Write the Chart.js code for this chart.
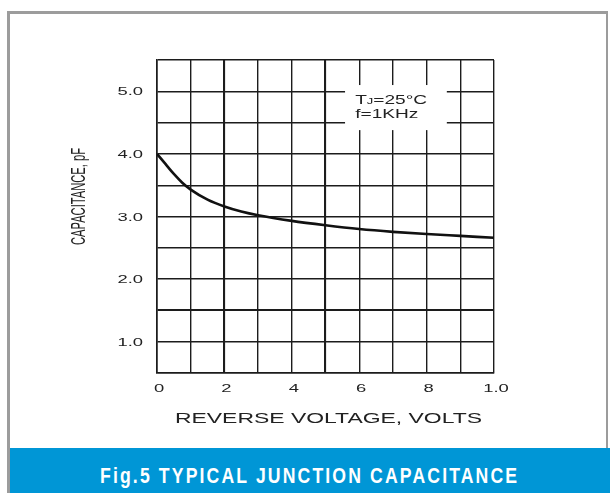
<!DOCTYPE html>
<html>
<head>
<meta charset="utf-8">
<script src="https://cdn.jsdelivr.net/npm/chart.js@4.4.1/dist/chart.umd.min.js"></script>
<style>
  html, body { margin: 0; padding: 0; background: #fff; }
  #page { position: relative; width: 610px; height: 493px; overflow: hidden; }
  #frame { position: absolute; left: 7px; top: 11px; right: 2px; bottom: 0; border: solid #9c9c9c; border-width: 3px 2px 0 3px; }
  #band { position: absolute; left: 10px; right: 0; top: 448px; bottom: 0; background: #0096d6; color: #fff;
          text-align: center; line-height: 59px; white-space: nowrap; }
  #band span { display: inline-block; font: bold 21.5px "Liberation Sans", Arial, sans-serif; letter-spacing: 2.6px;
               transform: scaleX(0.82); transform-origin: center; }
  canvas { position: absolute; left: 0; top: 0; }
</style>
</head>
<body>
<div id="page">
  <div id="frame"></div>
  <div id="band"><span>Fig.5 TYPICAL JUNCTION CAPACITANCE</span></div>
  <canvas id="chart" width="610" height="448"></canvas>
</div>
<script>
// values
const voltage = [0, 0.25, 0.5, 0.75, 1, 1.5, 2, 2.5, 3, 4, 5, 6, 7, 8, 9, 10];
const capacitance = [4.0, 3.84, 3.68, 3.54, 3.43, 3.27, 3.16, 3.08, 3.02, 2.93, 2.86, 2.80, 2.755, 2.72, 2.69, 2.66];

// tick labels, one per grid step (x: 0..10, y: 0.5..5.5)
const xTickLabels = ['0', '', '2', '', '4', '', '6', '', '8', '', '1.0'];
const yTickLabels = ['', '1.0', '', '2.0', '', '3.0', '', '4.0', '', '5.0', ''];

const heavyX = [2, 5];
const heavyY = [1.5];
const ink = '#1c1c1c';
const sans = '"Liberation Sans", Arial, sans-serif';

// the scanned original is stretched sideways, so text is drawn wide
function drawWide(ctx, parts, x, y, sx, align) {
    ctx.save();
    ctx.translate(x, y);
    ctx.scale(sx, 1);
    let total = 0;
    for (const [txt, size] of parts) {
        ctx.font = size + 'px ' + sans;
        total += ctx.measureText(txt).width;
    }
    let cx = align === 'right' ? -total : align === 'center' ? -total / 2 : 0;
    ctx.textAlign = 'left';
    for (const [txt, size] of parts) {
        ctx.font = size + 'px ' + sans;
        ctx.fillText(txt, cx, 0);
        cx += ctx.measureText(txt).width;
    }
    ctx.restore();
}

const figureText = {
    id: 'figureText',
    afterDraw(chart) {
        const { ctx, scales: { x, y }, chartArea } = chart;
        ctx.save();
        ctx.textBaseline = 'alphabetic';

        // white box behind the test conditions
        ctx.fillStyle = '#fff';
        const bx0 = x.getPixelForValue(5.58), bx1 = x.getPixelForValue(8.6);
        const by0 = y.getPixelForValue(5.1), by1 = y.getPixelForValue(4.38);
        ctx.fillRect(bx0, by0, bx1 - bx0, by1 - by0);

        ctx.fillStyle = '#222';
        const tx = x.getPixelForValue(5.88);
        drawWide(ctx, [['T', 13], ['J', 8.8], ['=25°C', 13]], tx, 103.5, 1.47, 'left');
        drawWide(ctx, [['f=1KHz', 13]], tx, 117.5, 1.47, 'left');

        // tick labels
        const tickSize = 11.5;
        const capHalf = tickSize * 0.716 / 2;
        x.ticks.forEach(t => {
            const label = xTickLabels[Math.round(t.value)];
            if (label) drawWide(ctx, [[label, tickSize]], x.getPixelForValue(t.value) + 2, chartArea.bottom + 18.5, 1.6, 'center');
        });
        y.ticks.forEach(t => {
            const label = yTickLabels[Math.round((t.value - 0.5) / 0.5)];
            if (label) drawWide(ctx, [[label, tickSize]], chartArea.left - 14, y.getPixelForValue(t.value) + capHalf, 1.6, 'right');
        });

        // x axis title
        drawWide(ctx, [['REVERSE VOLTAGE, VOLTS', 15.4]], (chartArea.left + chartArea.right) / 2 + 3, chartArea.bottom + 49.5, 1.49, 'center');

        // y axis title, rotated
        const title = 'CAPACITANCE, pF';
        const size = 14.5;
        ctx.font = size + 'px ' + sans;
        const w = ctx.measureText(title).width;
        const cy = (chartArea.top + chartArea.bottom) / 2 - 20;
        ctx.translate(77.5, cy);
        ctx.rotate(-Math.PI / 2);
        ctx.scale(97 / w, 1.42);
        ctx.textAlign = 'center';
        ctx.fillText(title, 0, size * 0.716 / 2);
        ctx.restore();
    }
};

const ctx = document.getElementById('chart').getContext('2d');

new Chart(ctx, {
    type: 'line',
    data: {
        datasets: [{
            data: voltage.map((v, i) => ({ x: v, y: capacitance[i] })),
            borderColor: '#111',
            borderWidth: 2.6,
            pointRadius: 0,
            cubicInterpolationMode: 'monotone',
            fill: false
        }]
    },
    options: {
        responsive: false,
        animation: false,
        layout: { padding: { left: 0, top: 60, right: 116, bottom: 0 } },
        plugins: {
            legend: { display: false },
            tooltip: { enabled: false }
        },
        scales: {
            x: {
                type: 'linear',
                min: 0,
                max: 10,
                afterFit(scale) { scale.height = 75; },
                ticks: { stepSize: 1, autoSkip: false, display: false },
                grid: {
                    color: ink,
                    drawTicks: false,
                    lineWidth: c => heavyX.includes(c.tick && c.tick.value) ? 2.1 : 1.4
                },
                border: { color: ink, width: 1.6 }
            },
            y: {
                min: 0.5,
                max: 5.5,
                afterFit(scale) { scale.width = 157; },
                ticks: { stepSize: 0.5, autoSkip: false, display: false },
                grid: {
                    color: ink,
                    drawTicks: false,
                    lineWidth: c => heavyY.includes(c.tick && c.tick.value) ? 2.1 : 1.4
                },
                border: { color: ink, width: 1.6 }
            }
        }
    },
    plugins: [figureText]
});
</script>
</body>
</html>
